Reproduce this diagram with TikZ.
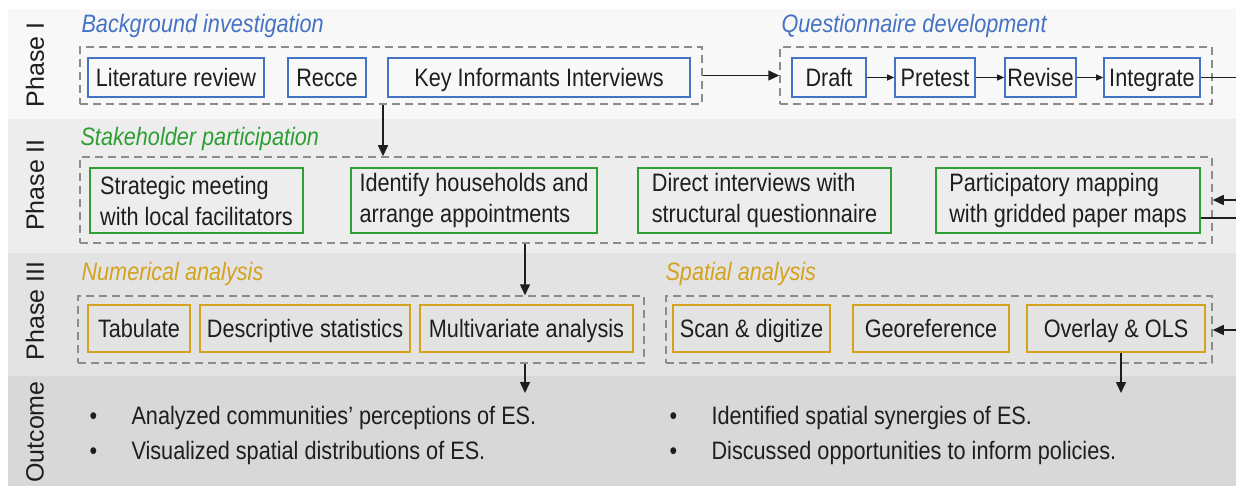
\documentclass[tikz,border=0pt]{standalone}
\usepackage{fontspec}
\setmainfont{Liberation Sans}[FakeStretch=0.86]
\newfontfamily\phasefont{Liberation Sans}
\usetikzlibrary{arrows.meta}
\definecolor{bandI}{HTML}{F8F8F8}
\definecolor{bandII}{HTML}{EDEDED}
\definecolor{bandIII}{HTML}{E3E3E3}
\definecolor{bandO}{HTML}{D8D8D8}
\definecolor{dashgray}{HTML}{8C8C8C}
\definecolor{cblue}{HTML}{4472C4}
\definecolor{cgreen}{HTML}{2E9E35}
\definecolor{cgold}{HTML}{D4A21C}
\definecolor{ink}{HTML}{1E1E1E}
\tikzset{
  band/.style={fill=#1, draw=none},
  grp/.style={draw=dashgray, dash pattern=on 8pt off 5pt, line width=1.5pt,
    inner sep=0pt},
  cbox/.style={draw=#1, line width=1.6pt, inner sep=0pt, text=ink},
  one/.style={text height=20pt, text depth=2pt},
  head/.style={anchor=base west, font=\fontsize{25.2}{30}\selectfont\itshape, text=#1},
  phase/.style={rotate=90, text=ink, font=\phasefont\fontsize{25}{30}\selectfont},
  arr/.style={-{Triangle[length=11pt,width=10pt]}, line width=1.5pt, draw=ink},
  sarr/.style={-{Triangle[length=7pt,width=6pt]}, line width=1.2pt, draw=ink},
  ln/.style={line width=1.5pt, draw=ink},
  outtxt/.style={anchor=base west, text=ink},
}
\begin{document}
\begin{tikzpicture}[x=1pt, y=-1pt, font=\fontsize{25.2}{31}\selectfont]
\useasboundingbox (0,0) rectangle (1236,486);
% phase bands
\fill[band=bandI]   (8,9)   rectangle (1236,119);
\fill[band=bandII]  (8,119) rectangle (1236,253);
\fill[band=bandIII] (8,253) rectangle (1236,376);
\fill[band=bandO]   (8,376) rectangle (1236,486);

% phase labels
\node[phase] (ph1) at (35,65)  {Phase I};
\node[phase] (ph2) at (35,185) {Phase II};
\node[phase] (ph3) at (35,311) {Phase III};
\node[phase] (ph4) at (35,432) {Outcome};

% ---- Phase I
\node[head=cblue] (hbg) at (78,33)  {Background investigation};
\node[head=cblue] (hqd) at (778,33) {Questionnaire development};
\node[grp, minimum width=622pt, minimum height=57pt] (g1a) at (391,75.5) {};
\node[grp, minimum width=432pt, minimum height=57pt] (g1b) at (996,75.5) {};
\node[cbox=cblue, one, minimum width=176pt, minimum height=39pt] (lit) at (176,77.5) {Literature review};
\node[cbox=cblue, one, minimum width=78pt,  minimum height=39pt] (rec) at (327,77.5) {Recce};
\node[cbox=cblue, one, minimum width=302pt, minimum height=39pt] (kii) at (539,77.5) {Key Informants Interviews};
\node[cbox=cblue, one, minimum width=74pt,  minimum height=39pt] (dra) at (829,77.5) {Draft};
\node[cbox=cblue, one, minimum width=80pt,  minimum height=39pt] (pre) at (935,77.5) {Pretest};
\node[cbox=cblue, one, minimum width=71pt,  minimum height=39pt] (rev) at (1040.5,77.5) {Revise};
\node[cbox=cblue, one, minimum width=96pt,  minimum height=39pt] (int) at (1152,77.5) {Integrate};
\draw[arr] (g1a.east) -- (g1b.west);
\draw[sarr] (dra) -- (pre);
\draw[sarr] (pre) -- (rev);
\draw[sarr] (rev) -- (int);
\coordinate (r1) at (1236,77.5);
\draw[ln] (int.east) -- (r1);

% ---- Phase II
\node[head=cgreen] (hsp) at (77,146) {Stakeholder participation};
\node[grp, minimum width=1132pt, minimum height=86pt] (g2) at (646,200) {};
\node[cbox=cgreen, align=left, minimum width=213pt, minimum height=65pt] (smt) at (196.5,200.5)
  {Strategic meeting\\with local facilitators};
\node[cbox=cgreen, align=left, minimum width=246pt, minimum height=65pt] (ihh) at (474,200.5)
  {Identify households and\\arrange appointments};
\node[cbox=cgreen, align=left, minimum width=253pt, minimum height=65pt] (dir) at (764.5,200.5)
  {Direct interviews with\\structural questionnaire};
\node[cbox=cgreen, align=left, minimum width=264pt, minimum height=65pt] (pmp) at (1068,200.5)
  {Participatory mapping\\with gridded paper maps};
\coordinate (x1) at (383,0);
\draw[arr] (g1a.south -| x1) -- (g2.north -| x1);
\coordinate (r2) at (1236,218);
\coordinate (r3) at (1236,200);
\draw[ln] (pmp.east |- r2) -- (r2);
\draw[arr] (r3) -- (g2.east |- r3);

% ---- Phase III
\node[head=cgold] (hna) at (78,280)  {Numerical analysis};
\node[head=cgold] (hsa) at (662,280) {Spatial analysis};
\node[grp, minimum width=566pt, minimum height=67pt] (g3a) at (361,329.5) {};
\node[grp, minimum width=546pt, minimum height=67pt] (g3b) at (939,329.5) {};
\node[cbox=cgold, one, minimum width=102pt, minimum height=47pt] (tab) at (139,328.5) {Tabulate};
\node[cbox=cgold, one, minimum width=210pt, minimum height=47pt] (des) at (305,328.5) {Descriptive statistics};
\node[cbox=cgold, one, minimum width=213pt, minimum height=47pt] (mva) at (526.5,328.5) {Multivariate analysis};
\node[cbox=cgold, one, minimum width=157pt, minimum height=47pt] (scn) at (751.5,328.5) {Scan \& digitize};
\node[cbox=cgold, one, minimum width=156pt, minimum height=47pt] (geo) at (931,328.5) {Georeference};
\node[cbox=cgold, one, minimum width=178pt, minimum height=47pt] (ols) at (1116,328.5) {Overlay \& OLS};
\coordinate (x2) at (525,0);
\draw[arr] (g2.south -| x2) -- (g3a.north -| x2);
\coordinate (r4) at (1236,330);
\draw[arr] (r4) -- (g3b.east |- r4);

% ---- Outcome
\coordinate (o1) at (525,393);
\coordinate (o2) at (1121,393);
\draw[arr] (g3a.south -| o1) -- (o1);
\draw[arr] (ols.south -| o2) -- (o2);
\node[outtxt] (b1) at (86,424)  {•};
\node[outtxt] (b2) at (86,459)  {•};
\node[outtxt] (t1) at (128,424) {Analyzed communities’ perceptions of ES.};
\node[outtxt] (t2) at (128,459) {Visualized spatial distributions of ES.};
\node[outtxt] (b3) at (666,424) {•};
\node[outtxt] (b4) at (666,459) {•};
\node[outtxt] (t3) at (708,424) {Identified spatial synergies of ES.};
\node[outtxt] (t4) at (708,459) {Discussed opportunities to inform policies.};
\end{tikzpicture}
\end{document}
